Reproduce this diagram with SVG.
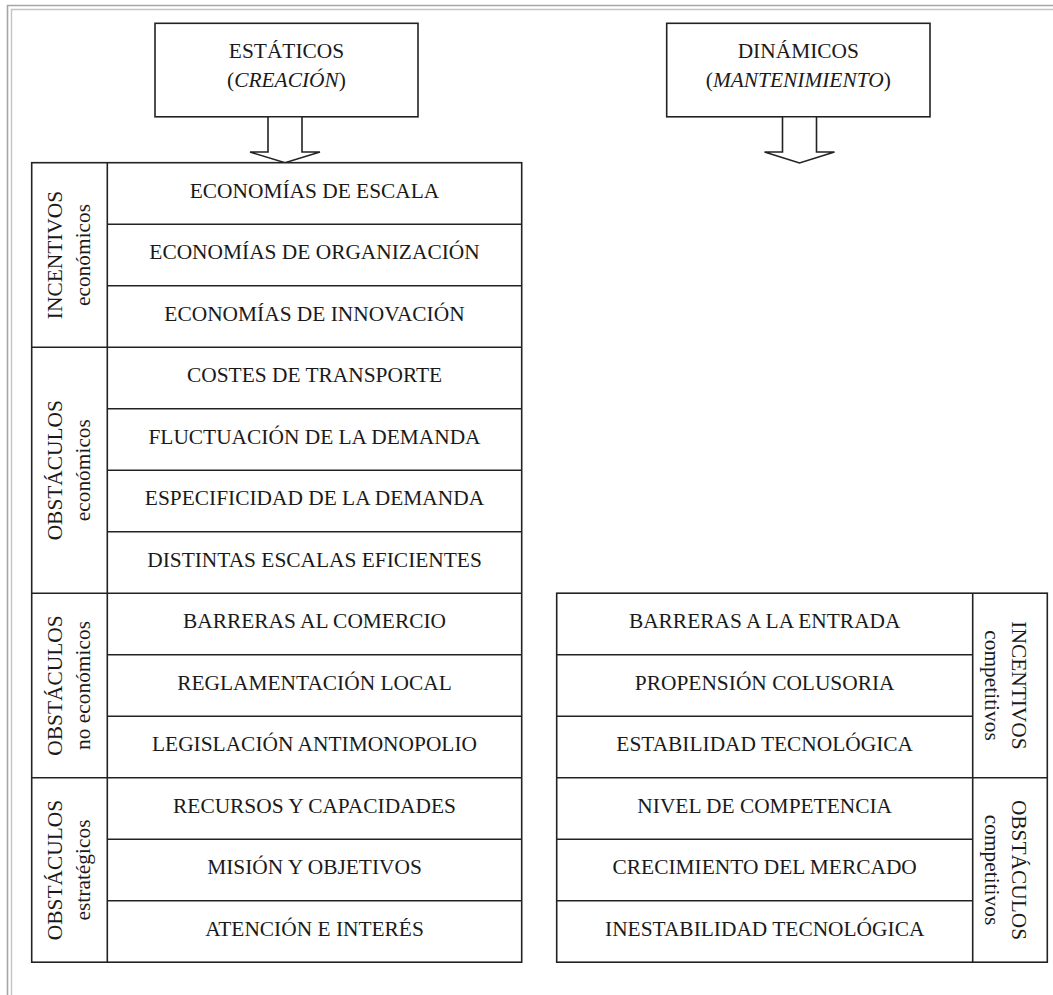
<svg xmlns="http://www.w3.org/2000/svg" width="1053" height="995" viewBox="0 0 1053 995">
  <style>
    .frame-out { fill: none; stroke: #a6a6a6; stroke-width: 1.6; }
    .frame-in { fill: none; stroke: #c4c4c4; stroke-width: 1.4; }
    .box { fill: #ffffff; stroke: #222222; stroke-width: 1.6; }
    .rule { fill: none; stroke: #222222; stroke-width: 1.6; }
    .arrow { fill: #ffffff; stroke: #222222; stroke-width: 1.6; stroke-linejoin: miter; }
    .t { font-family: "Liberation Serif", "Times New Roman", serif; font-size: 21.4px; fill: #1a1a1a; text-anchor: middle; }
    .it { font-style: italic; }
  </style>

  <!-- page frame (top and left edges) -->
  <g id="page-frame">
    <polyline class="frame-out" points="7.5,995 7.5,5.5 1053,5.5"/>
    <polyline class="frame-in" points="11.5,995 11.5,9.5 1053,9.5"/>
  </g>

  <!-- header boxes -->
  <g id="header-estaticos">
    <rect class="box" x="155" y="23.3" width="263" height="93.5"/>
    <text class="t" x="286.5" y="58.3">ESTÁTICOS</text>
    <text class="t" x="286.5" y="87.3">(<tspan class="it">CREACIÓN</tspan>)</text>
  </g>
  <g id="header-dinamicos">
    <rect class="box" x="666.7" y="23.3" width="263.3" height="93.5"/>
    <text class="t" x="798.3" y="58.3">DINÁMICOS</text>
    <text class="t" x="798.3" y="87.3">(<tspan class="it">MANTENIMIENTO</tspan>)</text>
  </g>

  <!-- block arrows -->
  <g id="connectors">
    <polygon class="arrow" points="268,116.8 302,116.8 302,152 320,152 285,162.7 250,152 268,152"/>
    <polygon class="arrow" points="782.5,116.8 816.5,116.8 816.5,152 834.5,152 799.5,163 764.5,152 782.5,152"/>
  </g>

  <!-- creation table -->
  <g id="table-creacion">
    <rect class="box" x="31.7" y="162.7" width="490" height="799.5"/>
    <line class="rule" x1="107.3" y1="162.7" x2="107.3" y2="962.2"/>

    <g id="grp-incentivos-economicos">
      <line class="rule" x1="107.3" y1="224.2" x2="521.7" y2="224.2"/>
      <line class="rule" x1="107.3" y1="285.7" x2="521.7" y2="285.7"/>
      <text class="t" transform="translate(61.5,255) rotate(-90)">INCENTIVOS</text>
      <text class="t" transform="translate(89.5,255) rotate(-90)">económicos</text>
      <text class="t" x="314.5" y="197.7">ECONOMÍAS DE ESCALA</text>
      <text class="t" x="314.5" y="259.2">ECONOMÍAS DE ORGANIZACIÓN</text>
      <text class="t" x="314.5" y="320.7">ECONOMÍAS DE INNOVACIÓN</text>
    </g>

    <g id="grp-obstaculos-economicos">
      <line class="rule" x1="31.7" y1="347.2" x2="521.7" y2="347.2"/>
      <line class="rule" x1="107.3" y1="408.7" x2="521.7" y2="408.7"/>
      <line class="rule" x1="107.3" y1="470.2" x2="521.7" y2="470.2"/>
      <line class="rule" x1="107.3" y1="531.7" x2="521.7" y2="531.7"/>
      <text class="t" transform="translate(61.5,470.2) rotate(-90)">OBSTÁCULOS</text>
      <text class="t" transform="translate(89.5,470.2) rotate(-90)">económicos</text>
      <text class="t" x="314.5" y="382.2">COSTES DE TRANSPORTE</text>
      <text class="t" x="314.5" y="443.7">FLUCTUACIÓN DE LA DEMANDA</text>
      <text class="t" x="314.5" y="505.2">ESPECIFICIDAD DE LA DEMANDA</text>
      <text class="t" x="314.5" y="566.7">DISTINTAS ESCALAS EFICIENTES</text>
    </g>

    <g id="grp-obstaculos-no-economicos">
      <line class="rule" x1="31.7" y1="593.2" x2="521.7" y2="593.2"/>
      <line class="rule" x1="107.3" y1="654.7" x2="521.7" y2="654.7"/>
      <line class="rule" x1="107.3" y1="716.2" x2="521.7" y2="716.2"/>
      <text class="t" transform="translate(61.5,685.5) rotate(-90)">OBSTÁCULOS</text>
      <text class="t" transform="translate(89.5,685.5) rotate(-90)">no económicos</text>
      <text class="t" x="314.5" y="628.2">BARRERAS AL COMERCIO</text>
      <text class="t" x="314.5" y="689.7">REGLAMENTACIÓN LOCAL</text>
      <text class="t" x="314.5" y="751.2">LEGISLACIÓN ANTIMONOPOLIO</text>
    </g>

    <g id="grp-obstaculos-estrategicos">
      <line class="rule" x1="31.7" y1="777.7" x2="521.7" y2="777.7"/>
      <line class="rule" x1="107.3" y1="839.2" x2="521.7" y2="839.2"/>
      <line class="rule" x1="107.3" y1="900.7" x2="521.7" y2="900.7"/>
      <text class="t" transform="translate(61.5,870) rotate(-90)">OBSTÁCULOS</text>
      <text class="t" transform="translate(89.5,870) rotate(-90)">estratégicos</text>
      <text class="t" x="314.5" y="812.7">RECURSOS Y CAPACIDADES</text>
      <text class="t" x="314.5" y="874.2">MISIÓN Y OBJETIVOS</text>
      <text class="t" x="314.5" y="935.7">ATENCIÓN E INTERÉS</text>
    </g>
  </g>

  <!-- maintenance table -->
  <g id="table-mantenimiento">
    <rect class="box" x="556.7" y="593.2" width="490.6" height="369"/>
    <line class="rule" x1="972.7" y1="593.2" x2="972.7" y2="962.2"/>

    <g id="grp-incentivos-competitivos">
      <line class="rule" x1="556.7" y1="654.7" x2="972.7" y2="654.7"/>
      <line class="rule" x1="556.7" y1="716.2" x2="972.7" y2="716.2"/>
      <text class="t" transform="translate(1011.7,685.5) rotate(90)">INCENTIVOS</text>
      <text class="t" transform="translate(984.5,685.5) rotate(90)">competitivos</text>
      <text class="t" x="764.7" y="628.2">BARRERAS A LA ENTRADA</text>
      <text class="t" x="764.7" y="689.7">PROPENSIÓN COLUSORIA</text>
      <text class="t" x="764.7" y="751.2">ESTABILIDAD TECNOLÓGICA</text>
    </g>

    <g id="grp-obstaculos-competitivos">
      <line class="rule" x1="556.7" y1="777.7" x2="1047.3" y2="777.7"/>
      <line class="rule" x1="556.7" y1="839.2" x2="972.7" y2="839.2"/>
      <line class="rule" x1="556.7" y1="900.7" x2="972.7" y2="900.7"/>
      <text class="t" transform="translate(1011.7,870) rotate(90)">OBSTÁCULOS</text>
      <text class="t" transform="translate(984.5,870) rotate(90)">competitivos</text>
      <text class="t" x="764.7" y="812.7">NIVEL DE COMPETENCIA</text>
      <text class="t" x="764.7" y="874.2">CRECIMIENTO DEL MERCADO</text>
      <text class="t" x="764.7" y="935.7">INESTABILIDAD TECNOLÓGICA</text>
    </g>
  </g>
</svg>
